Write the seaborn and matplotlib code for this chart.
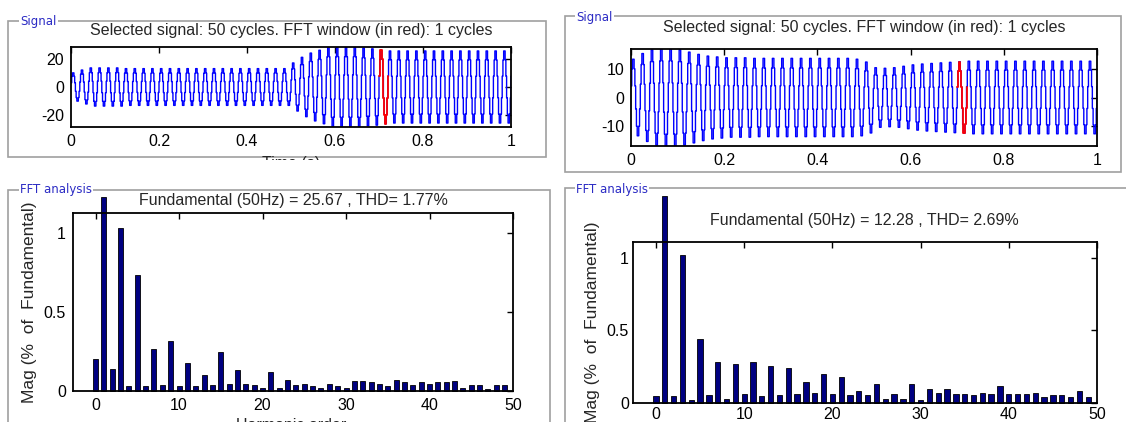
import numpy as np
import pandas as pd
import matplotlib
matplotlib.use("Agg")
import matplotlib.pyplot as plt
import seaborn as sns
from matplotlib.patches import Rectangle

# ---------------- data ----------------
harmonics = list(range(50))

left_mag = [0.20, 1.222, 0.142, 1.031, 0.030, 0.735, 0.030, 0.265, 0.038, 0.318,
            0.030, 0.178, 0.030, 0.100, 0.036, 0.248, 0.047, 0.133, 0.047, 0.038,
            0.021, 0.117, 0.021, 0.072, 0.038, 0.047, 0.030, 0.021, 0.047, 0.030,
            0.021, 0.064, 0.064, 0.055, 0.047, 0.030, 0.072, 0.055, 0.038, 0.055,
            0.047, 0.055, 0.055, 0.064, 0.021, 0.038, 0.038, 0.010, 0.038, 0.038]

right_mag = [0.048, 1.425, 0.048, 1.017, 0.023, 0.443, 0.058, 0.279, 0.030, 0.265,
             0.060, 0.282, 0.050, 0.256, 0.053, 0.242, 0.062, 0.141, 0.072, 0.198,
             0.062, 0.178, 0.053, 0.081, 0.053, 0.129, 0.025, 0.062, 0.025, 0.129,
             0.023, 0.099, 0.072, 0.099, 0.062, 0.062, 0.053, 0.072, 0.062, 0.120,
             0.062, 0.062, 0.062, 0.072, 0.044, 0.053, 0.053, 0.044, 0.083, 0.044]

# per-cycle peak amplitude of the 50 displayed cycles
left_amp = [10, 12, 13.5, 13.5, 13.5, 13.5, 13, 13, 13, 13,
            13, 13, 13, 13, 13, 13, 13, 13, 13, 13,
            13, 13, 13, 13, 13, 17, 21, 24, 26, 28.5,
            28.5, 28.5, 28.5, 27.5, 27, 26, 25.5, 25.5, 25.5, 25.5,
            25.5, 25.5, 25.5, 25.5, 25.5, 25.5, 25.5, 25.5, 25.5, 25.5]

right_amp = [13.5, 15.5, 16.8, 17.2, 17.2, 16.8, 16, 15.2, 14.6, 14.3,
             14, 14, 14, 13.8, 13.8, 13.8, 13.8, 13.8, 13.8, 13.8,
             13.8, 13.8, 13.8, 13.8, 13.5, 12.5, 10.5, 10.3, 10.5, 11,
             11.5, 11.8, 12, 12.2, 12.4, 12.6, 12.8, 12.8, 12.8, 12.8,
             12.8, 12.8, 12.8, 12.8, 12.8, 12.8, 12.8, 12.8, 12.8, 12.8]

# staircase shape of one cycle (normalised levels)
step_shape = [0.3, 0.75, 1.0, 1.0, 0.75, 0.3,
              -0.3, -0.75, -1.0, -1.0, -0.75, -0.3]

fft_window_cycle = 35
n_cycles = 50
signal_title = "Selected signal: 50 cycles. FFT window (in red): 1 cycles"
left_fft_title = "Fundamental (50Hz) = 25.67 , THD= 1.77%"
right_fft_title = "Fundamental (50Hz) = 12.28 , THD= 2.69%"
mag_label = "Mag (%  of  Fundamental)"
time_ticks = [0, 0.2, 0.4, 0.6, 0.8, 1]
time_ticklabels = ["0", "0.2", "0.4", "0.6", "0.8", "1"]
harm_ticks = [0, 10, 20, 30, 40, 50]
mag_ticks = [0, 0.5, 1]
mag_ticklabels = ["0", "0.5", "1"]

# ---------------- style ----------------
sns.set_style("white")
plt.rcParams["font.family"] = ["Liberation Sans", "DejaVu Sans"]
plt.rcParams["axes.linewidth"] = 1.3

W, H = 1126, 422
fig = plt.figure(figsize=(W / 100, H / 100), dpi=100)
fig.patch.set_facecolor("white")


def px_axes(x0, y0, x1, y1):
    return fig.add_axes([x0 / W, (H - y1) / H, (x1 - x0) / W, (y1 - y0) / H])


def fig_xy(x, y):
    return x / W, (H - y) / H


def build_signal(amps):
    ns = len(step_shape)
    t, v = [], []
    for ci, a in enumerate(amps):
        for k, s in enumerate(step_shape):
            t.append((ci + k / ns) / n_cycles)
            v.append(a * s)
    t.append(1.0)
    v.append(amps[-1] * step_shape[0])
    return pd.DataFrame({"t": t, "v": v})


def style_axes(ax, pad=5):
    for sp in ax.spines.values():
        sp.set_color("black")
        sp.set_linewidth(1.3)
        sp.set_visible(True)
    ax.tick_params(direction="in", length=4, width=1, top=True, right=True,
                   labelsize=11.5, colors="black", pad=pad)
    ax.set_xlabel("")
    ax.set_ylabel("")


def draw_signal(ax, amps, ylim, yticks):
    df = build_signal(amps)
    sns.lineplot(data=df, x="t", y="v", ax=ax, color="#0000ff", lw=1.0,
                 estimator=None, sort=False, drawstyle="steps-post")
    red = df[(df["t"] >= fft_window_cycle / n_cycles - 1e-9) &
             (df["t"] <= (fft_window_cycle + 1) / n_cycles + 1e-9)]
    sns.lineplot(data=red, x="t", y="v", ax=ax, color="#ff0000", lw=1.3,
                 estimator=None, sort=False, drawstyle="steps-post")
    ax.set_xlim(0, 1)
    ax.set_ylim(*ylim)
    ax.set_xticks(time_ticks)
    ax.set_xticklabels(time_ticklabels)
    ax.set_yticks(yticks)
    ax.set_yticklabels([str(v) for v in yticks])
    style_axes(ax)


def draw_fft(ax, mags, xlim, ylim, pad=5):
    df = pd.DataFrame({"h": harmonics, "m": mags})
    sns.barplot(data=df, x="h", y="m", ax=ax, native_scale=True, width=0.6,
                color="#000080", saturation=1, edgecolor="black", linewidth=0.6)
    for p in ax.patches:
        p.set_clip_on(False)
    ax.set_xlim(*xlim)
    ax.set_ylim(*ylim)
    ax.set_xticks(harm_ticks)
    ax.set_xticklabels([str(v) for v in harm_ticks])
    ax.set_yticks(mag_ticks)
    ax.set_yticklabels(mag_ticklabels)
    style_axes(ax, pad=pad)


def frame(x0, y0, x1, y1, label, lx, ly):
    fx, fy = fig_xy(x0, y1)
    r = Rectangle((fx, fy), (x1 - x0) / W, (y1 - y0) / H, transform=fig.transFigure,
                  fill=False, edgecolor="#a0a0a0", linewidth=1.2, zorder=0)
    fig.add_artist(r)
    tx, ty = fig_xy(lx, ly)
    fig.text(tx, ty, label, ha="left", va="center", fontsize=8.5, color="#2b2bc4",
             family="DejaVu Sans",
             bbox=dict(facecolor="white", edgecolor="none", pad=1.0), zorder=1)


# frames
frame(8, 21, 546, 157, "Signal", 20, 21)
frame(8, 190, 550, 480, "FFT analysis", 20, 190)
frame(565, 16, 1121, 172, "Signal", 576, 17)
frame(565, 188, 1140, 480, "FFT analysis", 576, 189)

# partially hidden x label of left signal
tx, ty = fig_xy(291, 156)
fig.text(tx, ty, "Time (s)", ha="center", va="top", fontsize=11.5, zorder=2)
cx, cy = fig_xy(200, 185)
fig.add_artist(Rectangle((cx, cy), 200 / W, 25 / H, transform=fig.transFigure,
                         facecolor="white", edgecolor="none", zorder=3))

# axes
ax1 = px_axes(71, 47, 511, 127)
draw_signal(ax1, left_amp, (-28.3, 28.3), [-20, 0, 20])
ax1.set_title(signal_title, fontsize=11.5, pad=9)

ax2 = px_axes(631, 49, 1097, 146)
draw_signal(ax2, right_amp, (-17.1, 17.1), [-10, 0, 10])
ax2.set_title(signal_title, fontsize=11.5, pad=12)

ax3 = px_axes(73, 213, 513, 391)
draw_fft(ax3, left_mag, (-2.7, 50), (0, 1.124))
ax3.set_ylabel(mag_label, fontsize=12.5, labelpad=5)
tx, ty = fig_xy(293, 200)
fig.text(tx, ty, left_fft_title, ha="center", va="center", fontsize=11.5)
tx, ty = fig_xy(291, 418)
fig.text(tx, ty, "Harmonic order", ha="center", va="top", fontsize=11.5)

ax4 = px_axes(633, 242, 1097, 403)
draw_fft(ax4, right_mag, (-2.6, 50), (0, 1.107), pad=3)
ax4.set_ylabel(mag_label, fontsize=12.5, labelpad=5)
tx, ty = fig_xy(864, 220)
fig.text(tx, ty, right_fft_title, ha="center", va="center", fontsize=11.5)

fig.savefig("out.png", dpi=100, facecolor="white")
